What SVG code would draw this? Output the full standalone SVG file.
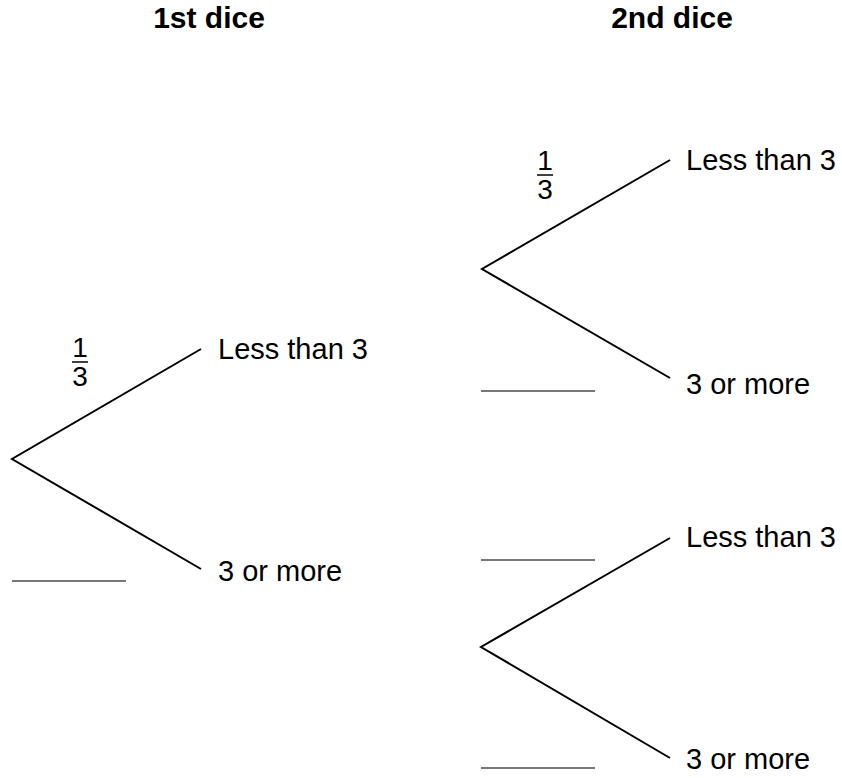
<svg xmlns="http://www.w3.org/2000/svg" width="842" height="778" viewBox="0 0 842 778">
<style>
.br{stroke:#000;stroke-width:2;fill:none}
.bl{stroke:#777;stroke-width:2}
.t{font-family:"Liberation Sans",Arial,sans-serif;font-size:29px;fill:#000}
.h{font-family:"Liberation Sans",Arial,sans-serif;font-size:30px;font-weight:bold;fill:#000;text-anchor:middle}
.f{font-family:"Liberation Sans",Arial,sans-serif;font-size:28px;fill:#000;text-anchor:middle}
</style>
<rect width="842" height="778" fill="#fff"/>
<g id="headers">
<text class="h" x="209" y="28">1st dice</text>
<text class="h" x="672" y="28">2nd dice</text>
</g>
<g id="connectors">
<polyline class="br" points="201,349 12,459 201,569"/>
<polyline class="br" points="670,160 482,269 670,378"/>
<polyline class="br" points="670,538 481,647 670,758"/>
</g>
<g id="node-first-less">
<text class="t" x="218" y="359">Less than 3</text>
</g>
<g id="node-first-more">
<text class="t" x="218" y="581">3 or more</text>
</g>
<g id="node-second-a-less">
<text class="t" x="686" y="170">Less than 3</text>
</g>
<g id="node-second-a-more">
<text class="t" x="686" y="394">3 or more</text>
</g>
<g id="node-second-b-less">
<text class="t" x="686" y="547">Less than 3</text>
</g>
<g id="node-second-b-more">
<text class="t" x="686" y="769">3 or more</text>
</g>
<g id="prob-first">
<text class="f" x="80" y="357">1</text>
<line x1="72" y1="362" x2="88" y2="362" stroke="#000" stroke-width="1.5"/>
<text class="f" x="80" y="386">3</text>
<line class="bl" x1="12" y1="581" x2="126" y2="581"/>
</g>
<g id="prob-second-a">
<text class="f" x="545" y="170">1</text>
<line x1="537" y1="175" x2="553" y2="175" stroke="#000" stroke-width="1.5"/>
<text class="f" x="545" y="199">3</text>
<line class="bl" x1="481" y1="391" x2="595" y2="391"/>
</g>
<g id="prob-second-b">
<line class="bl" x1="481" y1="560" x2="595" y2="560"/>
<line class="bl" x1="481" y1="768" x2="595" y2="768"/>
</g>
</svg>
